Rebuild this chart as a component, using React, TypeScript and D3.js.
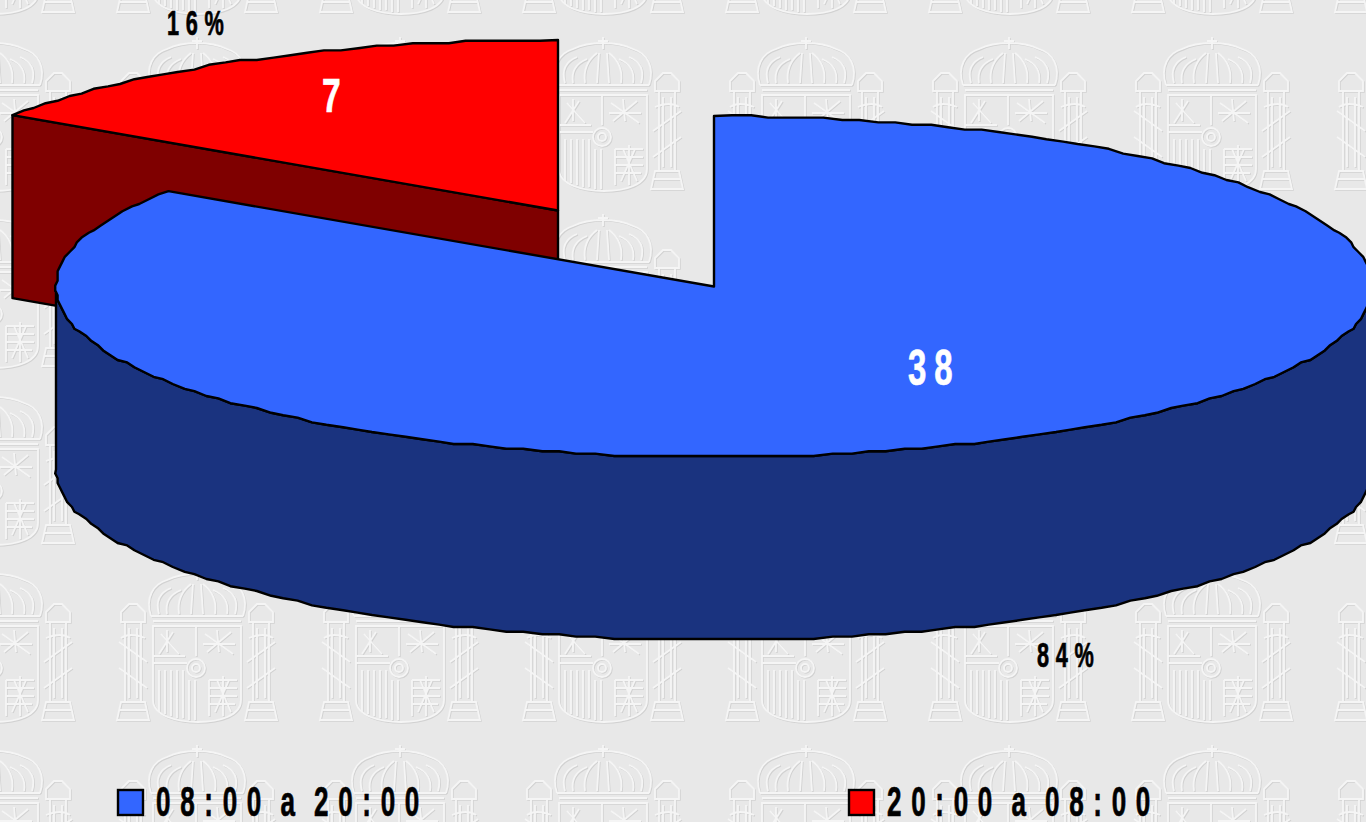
import React from "react";
import * as d3 from "d3";

const categories = ["08:00 a 20:00", "20:00 a 08:00"];
const values = [38, 7];
const percents = ["84%", "16%"];
const topColors = ["#3366ff", "#ff0000"];
const sideColors = ["#1a337f", "#7f0000"];

const W = 1366, H = 822;
const RX = 658, RY = 170.5, DEPTH = 183;
const centers = [{ x: 714, y: 286.5 }, { x: 558, y: 210.5 }];
const GRID = 2.4;
const STEP = (1.6 * Math.PI) / 180;

const pieGen = d3.pie<number>().sort(null).startAngle(0).endAngle(2 * Math.PI);
const slices = pieGen(values);

const line = d3.line<[number, number]>();
const snap = (v: number) => Math.round(v / GRID) * GRID;

function arcPoints(c: { x: number; y: number }, a0: number, a1: number, dy = 0) {
  const sx = d3.scaleLinear().domain([-1, 1]).range([c.x - RX, c.x + RX]);
  const sy = d3.scaleLinear().domain([-1, 1]).range([c.y - RY, c.y + RY]);
  const lo = Math.min(a0, a1), hi = Math.max(a0, a1);
  const angles = [lo];
  for (let k = Math.ceil(lo / STEP + 1e-6); k * STEP < hi - 1e-6; k++) angles.push(k * STEP);
  angles.push(hi);
  const pts = angles.map((a, i) => {
    const edge = i === 0 || i === angles.length - 1;
    const x = sx(Math.sin(a));
    const y = sy(-Math.cos(a));
    return (edge ? [x, y + dy] : [snap(x), snap(y) + dy]) as [number, number];
  });
  return a1 < a0 ? pts.reverse() : pts;
}

const blue = slices[0], red = slices[1];
const bc = centers[0], rc = centers[1];

const blueTop = line([[bc.x, bc.y], ...arcPoints(bc, blue.startAngle, blue.endAngle)]) + "Z";
const redTop = line([[rc.x, rc.y], ...arcPoints(rc, red.startAngle, red.endAngle)]) + "Z";
const blueSide =
  line([
    ...arcPoints(bc, Math.PI / 2, 1.5 * Math.PI),
    ...arcPoints(bc, 1.5 * Math.PI, Math.PI / 2, DEPTH),
  ]) + "Z";
const redStart = arcPoints(rc, red.startAngle, red.endAngle)[0];
const redSide =
  line([
    redStart,
    [rc.x, rc.y],
    [rc.x, rc.y + DEPTH],
    [redStart[0], redStart[1] + DEPTH],
  ]) + "Z";

// Embossed watermark motif, origin at the small roundel of the coat of arms
const motif = [
  "M-46,-52 C-52,-70 -44,-84 -30,-88 C-22,-92 -10,-94 0,-94 C10,-94 22,-92 30,-88 C44,-84 52,-70 46,-52",
  "M-38,-54 C-42,-68 -36,-76 -26,-80 M-30,-54 C-32,-66 -26,-74 -16,-78 M-18,-54 C-20,-68 -14,-78 -6,-84",
  "M38,-54 C42,-68 36,-76 26,-80 M30,-54 C32,-66 26,-74 16,-78 M18,-54 C20,-68 14,-78 6,-84",
  "M-6,-54 L-4,-84 M6,-54 L4,-84 M0,-88 L0,-100 M-5,-96 L5,-96 M-46,-52 L46,-52 M-44,-47 L44,-47",
  "M-44,-42 L44,-42 L44,32 C44,48 22,54 1,54 C-20,54 -44,48 -44,32 Z",
  "M-44,-5 L-10,-5 M-1,-42 L-1,-12 M12,12 L12,48 M-44,-12 L-12,-12",
  "M-36,-34 L-18,-14 M-24,-36 L-38,-14 M-30,-38 L-30,-16 M8,-34 L36,-14 M34,-36 L10,-16 M20,-38 L22,-16 M6,-24 L38,-24",
  "M-38,2 L-38,44 M-32,2 L-32,46 M-26,2 L-26,48 M-20,2 L-20,50 M-14,2 L-14,50 M-8,12 L-8,52 M-2,12 L-2,52",
  "M12,12 L40,12 M12,20 L40,20 M12,28 L40,28 M12,36 L38,36 M20,12 L34,44 M32,12 L18,44 M26,8 L26,48",
  "M8,0 A9,9 0 1 1 -10,0 A9,9 0 1 1 8,0 M3,0 A4,4 0 1 1 -5,0 A4,4 0 1 1 3,0",
  "M52,-56 L60,-64 L68,-64 L76,-56 L76,-46 L52,-46 Z M56,-46 L56,34 M72,-46 L72,34 M52,34 L76,34 L80,52 L48,52 Z M50,42 L78,42 M60,-40 L60,30 M68,-40 L68,30",
  "M-52,-56 L-60,-64 L-68,-64 L-76,-56 L-76,-46 L-52,-46 Z M-56,-46 L-56,34 M-72,-46 L-72,34 M-52,34 L-76,34 L-80,52 L-48,52 Z M-50,42 L-78,42 M-60,-40 L-60,30 M-68,-40 L-68,30",
  "M50,-6 L78,-26 M50,20 L78,0 M-50,-6 L-78,-26 M-50,20 L-78,0 M52,-30 C62,-34 70,-34 76,-30 M-52,-30 C-62,-34 -70,-34 -76,-30",
];

function Label({ x, y, size, sx, spacing, wordSpacing, fill, children }: any) {
  return (
    <text
      transform={`translate(${x},${y}) scale(${sx},1)`}
      fontFamily="'Liberation Sans',Arial,sans-serif"
      fontWeight="bold"
      fontSize={size}
      letterSpacing={spacing}
      wordSpacing={wordSpacing}
      fill={fill}
      stroke={fill}
      strokeWidth={0.7}
    >
      {children}
    </text>
  );
}

export default function App() {
  return (
    <svg
      width={W}
      height={H}
      viewBox={`0 0 ${W} ${H}`}
      style={{ position: "fixed", left: 0, top: 0, display: "block" }}
    >
      <defs>
        <filter id="soft" x="-10%" y="-10%" width="120%" height="120%">
          <feGaussianBlur stdDeviation="0.6" />
        </filter>
        <pattern id="arms" patternUnits="userSpaceOnUse" width={203} height={177} x={96} y={37}>
          <g transform="translate(101,100)" fill="none" filter="url(#soft)">
            {motif.map((d, i) => (
              <path key={"s" + i} d={d} transform="translate(1,1)" stroke="#d2d2d2" strokeWidth={1.5} />
            ))}
            {motif.map((d, i) => (
              <path key={"h" + i} d={d} stroke="#f5f5f5" strokeWidth={1.8} />
            ))}
          </g>
        </pattern>
      </defs>
      <rect width={W} height={H} fill="#e8e8e8" />
      <rect width={W} height={H} fill="url(#arms)" />

      <path d={redSide} fill={sideColors[1]} stroke="#000" strokeWidth={2.4} strokeLinejoin="round" />
      <path d={redTop} fill={topColors[1]} stroke="#000" strokeWidth={2.4} strokeLinejoin="round" />
      <path d={blueSide} fill={sideColors[0]} stroke="#000" strokeWidth={2.4} strokeLinejoin="round" />
      <path d={blueTop} fill={topColors[0]} stroke="#000" strokeWidth={2.4} strokeLinejoin="round" />

      <Label x={908} y={385} size={50} sx={0.66} spacing={12} fill="#fff">{values[0]}</Label>
      <Label x={322} y={112} size={48} sx={0.7} spacing={0} fill="#fff">{values[1]}</Label>
      <Label x={1037} y={667} size={35} sx={0.62} spacing={10.8} fill="#000">{percents[0]}</Label>
      <Label x={167} y={35} size={35} sx={0.62} spacing={10.8} fill="#000">{percents[1]}</Label>

      <rect x={118} y={790} width={25} height={25} fill={topColors[0]} stroke="#000" strokeWidth={2.4} />
      <Label x={156} y={816} size={42} sx={0.62} spacing={15.6} wordSpacing={-12} fill="#000">{categories[0]}</Label>
      <rect x={849} y={790} width={25} height={25} fill={topColors[1]} stroke="#000" strokeWidth={2.4} />
      <Label x={887} y={816} size={42} sx={0.62} spacing={15.6} wordSpacing={-12} fill="#000">{categories[1]}</Label>
    </svg>
  );
}
